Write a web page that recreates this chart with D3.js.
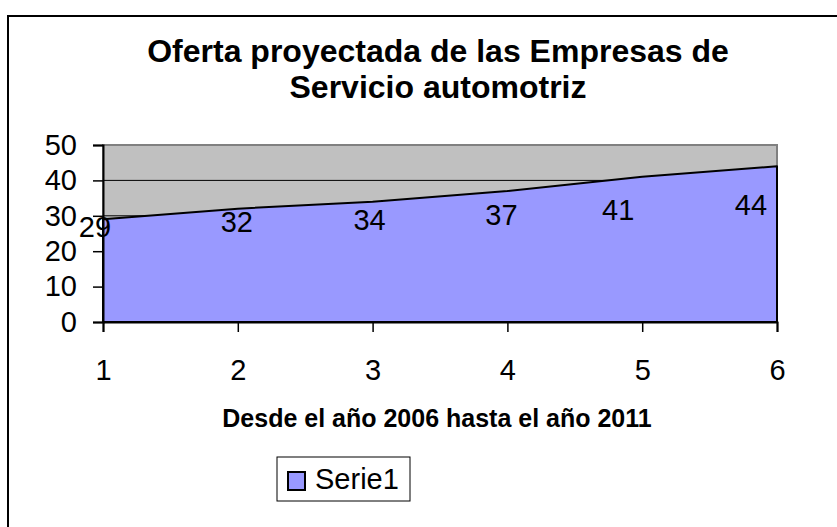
<!DOCTYPE html>
<html lang="es">
<head>
<meta charset="utf-8">
<script src="https://d3js.org/d3.v7.min.js"></script>
<style>
  body { margin: 0; background: #fff; }
  text { font-family: "Liberation Sans", Arial, sans-serif; fill: #000; }
</style>
</head>
<body>
<script>
  // data
  var categories = [1, 2, 3, 4, 5, 6];
  var serie1 = [29, 32, 34, 37, 41, 44];
  var yTicks = [0, 10, 20, 30, 40, 50];
  var seriesName = 'Serie1';
  var titleLines = ['Oferta proyectada de las Empresas de', 'Servicio automotriz'];
  var xTitle = 'Desde el año 2006 hasta el año 2011';

  var width = 837, height = 527;
  var plot = {left: 103, right: 777, top: 145, bottom: 322};

  var svg = d3.select('body').append('svg')
    .attr('width', width)
    .attr('height', height);

  // outer chart border (runs off the right / bottom)
  svg.append('rect')
    .attr('x', 8).attr('y', 16)
    .attr('width', 860).attr('height', 560)
    .attr('fill', 'none')
    .attr('stroke', '#000')
    .attr('stroke-width', 2);

  var x = d3.scalePoint().domain(categories).range([plot.left, plot.right]);
  var y = d3.scaleLinear().domain([0, 50]).range([plot.bottom, plot.top]);

  // plot background
  svg.append('rect')
    .attr('x', plot.left).attr('y', plot.top)
    .attr('width', plot.right - plot.left).attr('height', plot.bottom - plot.top)
    .attr('fill', '#c0c0c0')
    .attr('stroke', '#808080')
    .attr('stroke-width', 2);

  // gridlines
  svg.append('g').selectAll('line')
    .data(yTicks.slice(1, -1))
    .join('line')
    .attr('x1', plot.left).attr('x2', plot.right)
    .attr('y1', function(d) { return y(d); })
    .attr('y2', function(d) { return y(d); })
    .attr('stroke', '#000')
    .attr('stroke-width', 1);

  var pts = categories.map(function(c, i) { return [c, serie1[i]]; });

  var area = d3.area()
    .x(function(d) { return x(d[0]); })
    .y0(y(0))
    .y1(function(d) { return y(d[1]); });

  svg.append('path')
    .datum(pts)
    .attr('d', area)
    .attr('fill', '#9999ff')
    .attr('stroke', '#000')
    .attr('stroke-width', 2)
    .attr('stroke-linejoin', 'round');

  // y axis
  var yAxis = svg.append('g')
    .attr('transform', 'translate(' + plot.left + ',0)')
    .call(d3.axisLeft(y).tickValues(yTicks).tickSize(10).tickPadding(16).tickFormat(d3.format('d')));
  yAxis.select('.domain').attr('stroke', '#000').attr('stroke-width', 2);
  yAxis.selectAll('.tick line').attr('stroke', '#000').attr('stroke-width', 1.5);
  yAxis.selectAll('text').attr('font-size', 29).attr('font-family', '"Liberation Sans", Arial, sans-serif').attr('fill', '#000');

  // x axis
  var xAxis = svg.append('g')
    .attr('transform', 'translate(0,' + plot.bottom + ')')
    .call(d3.axisBottom(x).tickSize(10).tickPadding(27));
  xAxis.select('.domain').attr('stroke', '#000').attr('stroke-width', 2);
  xAxis.selectAll('.tick line').attr('stroke', '#000').attr('stroke-width', 1.5);
  xAxis.selectAll('text').attr('font-size', 29).attr('font-family', '"Liberation Sans", Arial, sans-serif').attr('fill', '#000');

  // data labels (Excel drops them below the line, a bit more toward the right)
  var labelShift = [-8, -1, -3, -6, -24, -26];
  svg.append('g').selectAll('text')
    .data(serie1)
    .join('text')
    .attr('x', function(d, i) { return x(categories[i]) + labelShift[i]; })
    .attr('y', function(d) { return y(0.4 * d + 12.5); })
    .attr('text-anchor', 'middle')
    .attr('font-size', 29)
    .text(function(d) { return d; });

  // title
  svg.append('g').selectAll('text')
    .data(titleLines)
    .join('text')
    .attr('x', 438)
    .attr('y', function(d, i) { return 62 + i * 36; })
    .attr('text-anchor', 'middle')
    .attr('font-size', 32)
    .attr('font-weight', 'bold')
    .text(function(d) { return d; });

  svg.append('text')
    .attr('x', 437).attr('y', 427)
    .attr('text-anchor', 'middle')
    .attr('font-size', 25)
    .attr('font-weight', 'bold')
    .text(xTitle);

  // legend
  var legend = svg.append('g').attr('transform', 'translate(277,457)');
  legend.append('rect')
    .attr('width', 133).attr('height', 44)
    .attr('fill', '#fff')
    .attr('stroke', '#000')
    .attr('stroke-width', 1);
  legend.append('rect')
    .attr('x', 11).attr('y', 15)
    .attr('width', 17).attr('height', 18)
    .attr('fill', '#9999ff')
    .attr('stroke', '#000')
    .attr('stroke-width', 2);
  legend.append('text')
    .attr('x', 38).attr('y', 32)
    .attr('font-size', 29)
    .text(seriesName);
</script>
</body>
</html>
